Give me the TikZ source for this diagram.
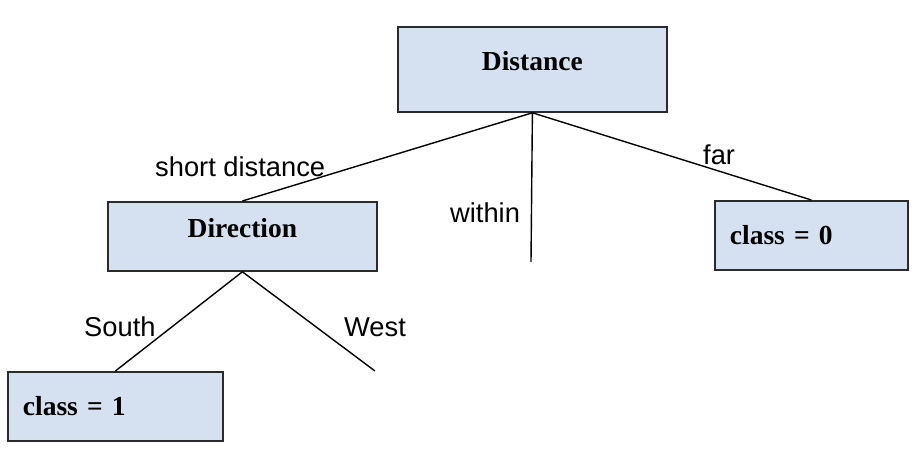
\documentclass[tikz,border=0pt]{standalone}
\usepackage{fontspec}
\setmainfont{Liberation Serif}
\newfontfamily\labelfont{Liberation Sans}
\usetikzlibrary{positioning}
\definecolor{boxfill}{HTML}{D5E1F1}
\definecolor{boxline}{HTML}{2B2B2B}

\begin{document}
\begin{tikzpicture}[
    x=1pt, y=-1pt,
    font=\fontsize{27.5}{32}\selectfont,
    blk/.style    ={draw=boxline, fill=boxfill, line width=1.8pt, inner ysep=0pt,
                    anchor=north west, font=\fontsize{27.5}{32}\selectfont\bfseries},
    rootblk/.style={blk, inner xsep=0pt, text width=269pt, align=center,
                    text height=44pt, text depth=41pt},
    testblk/.style={blk, inner xsep=0pt, text width=269pt, align=center,
                    text height=36pt, text depth=33pt},
    leafblk/.style={blk, inner xsep=15pt, align=left,
                    text height=44pt, text depth=25pt},
    lbl/.style    ={anchor=base west, inner sep=0pt,
                    font=\labelfont\fontsize{27.3}{32}\selectfont},
    edge/.style   ={line width=1.4pt, black},
]

% background and page size
\fill[white] (0,0) rectangle (922,454);
\useasboundingbox (0,0) rectangle (922,454);

% ------------------------------------------------------------
% tree nodes
% ------------------------------------------------------------
\node[rootblk] (dist) at (397,26)  {Distance};
\node[testblk] (dir)  at (107,201) {Direction};
\node[leafblk, text width=163pt] (c0) at (714,200) {class = 0};
\node[leafblk, text width=185pt] (c1) at (7,371)   {class = 1};

% open branch ends
\coordinate (within) at (531,262);
\coordinate (west)   at (375,371);

% ------------------------------------------------------------
% branches
% ------------------------------------------------------------
\draw[edge] (dist.south) -- (dir.north);
\draw[edge] (dist.south) -- (within);
\draw[edge] (dist.south) -- (c0.north);
\draw[edge] (dir.south)  -- (c1.north);
\draw[edge] (dir.south)  -- (west);

% branch labels
\node[lbl] (lshort)  at (155,177) {short distance};
\node[lbl] (lwithin) at (450,223) {within};
\node[lbl] (lfar)    at (703,165) {far};
\node[lbl] (lsouth)  at (84,337)  {South};
\node[lbl] (lwest)   at (344,337) {West};

\end{tikzpicture}
\end{document}
